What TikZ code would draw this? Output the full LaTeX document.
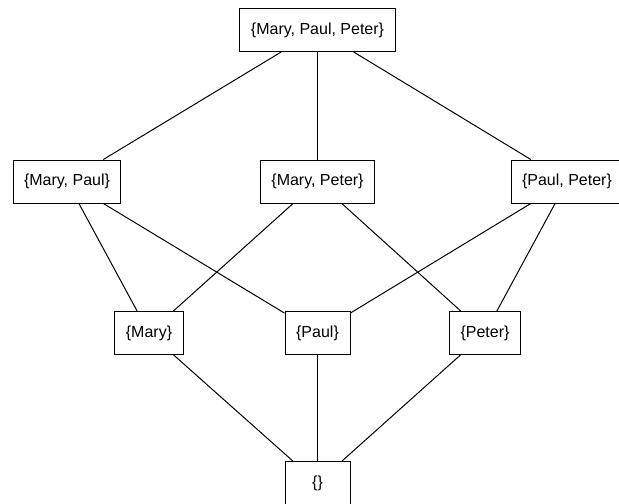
\documentclass[tikz,border=0pt]{standalone}
\usepackage{fontspec}
\setmainfont{Liberation Sans}
\begin{document}
\begin{tikzpicture}[x=0.75pt,y=-0.75pt,
  setbox/.style={draw=black,line width=0.75pt,fill=white,font=\fontsize{12pt}{14pt}\selectfont,
    minimum width=48.75pt,minimum height=32.25pt,inner xsep=8.25pt,inner ysep=0pt},
  link/.style={draw=black,line width=0.75pt}]
\useasboundingbox (0,0) rectangle (619,504);
\node[setbox] (mpp) at (317.5,30) {\{Mary, Paul, Peter\}};
\node[setbox] (mpa) at (67,181.5) {\{Mary, Paul\}};
\node[setbox] (mpe) at (317.5,181.5) {\{Mary, Peter\}};
\node[setbox] (ppe) at (567,181.5) {\{Paul, Peter\}};
\node[setbox] (ma) at (149,333) {\{Mary\}};
\node[setbox] (pa) at (317.5,333) {\{Paul\}};
\node[setbox] (pe) at (485,333) {\{Peter\}};
\node[setbox] (em) at (317.5,483) {\{\}};
\draw[link] (mpp) -- (mpa);
\draw[link] (mpp) -- (mpe);
\draw[link] (mpp) -- (ppe);
\draw[link] (mpa) -- (ma);
\draw[link] (mpa) -- (pa);
\draw[link] (mpe) -- (ma);
\draw[link] (mpe) -- (pe);
\draw[link] (ppe) -- (pa);
\draw[link] (ppe) -- (pe);
\draw[link] (ma) -- (em);
\draw[link] (pa) -- (em);
\draw[link] (pe) -- (em);
\end{tikzpicture}
\end{document}
